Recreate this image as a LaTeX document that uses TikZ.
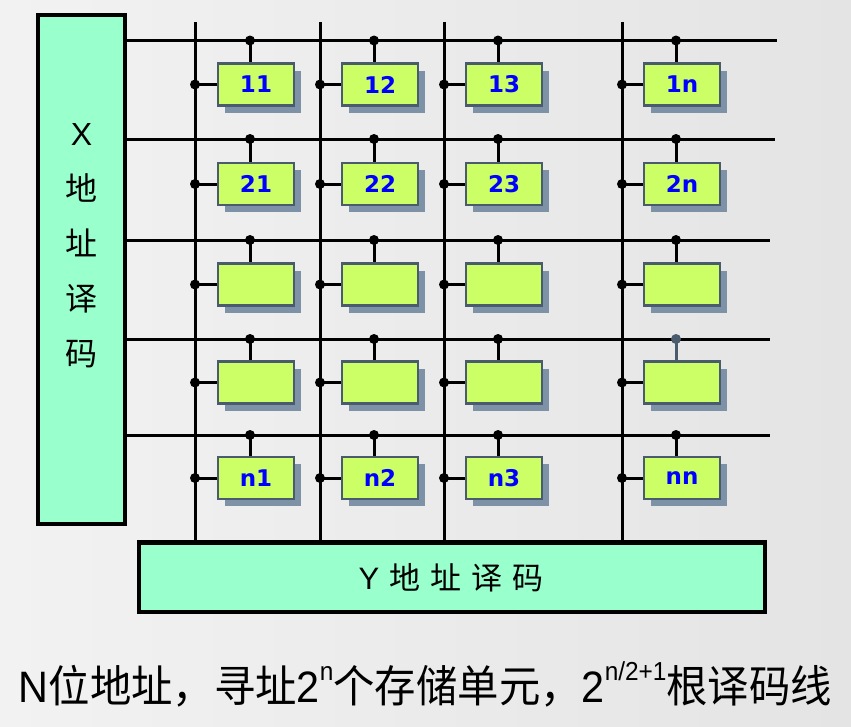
\documentclass[tikz,border=0pt]{standalone}
\usepackage{fontspec}
\setmainfont{Liberation Sans}
\newfontfamily\cjk{Noto Sans CJK SC}
\newfontfamily\cellfont{DejaVu Sans}
\usetikzlibrary{shadows}
\definecolor{bgleft}{HTML}{F2F2F2}
\definecolor{bgright}{HTML}{E4E4E4}
\definecolor{decfill}{HTML}{99FFCC}
\definecolor{cellfill}{HTML}{CCFF66}
\definecolor{slate}{HTML}{4A5B6E}
\definecolor{shadowcol}{HTML}{7D91A7}
\newcommand\upx[1]{\raisebox{0.95ex}{\fontsize{26}{26}\selectfont #1}}
\begin{document}
\begin{tikzpicture}[x=1pt,y=-1pt,
  wire/.style={line width=3pt},
  dot/.style={circle,fill=black,inner sep=0pt,minimum size=10pt},
  decoder/.style={draw=black,line width=4.5pt,fill=decfill,inner sep=0pt},
  cell/.style={draw=slate,line width=2.5pt,fill=cellfill,inner sep=0pt,
    minimum width=76pt,minimum height=42pt,text=blue,
    font=\cellfont\bfseries\fontsize{23}{23}\selectfont,
    drop shadow={shadow xshift=7pt,shadow yshift=-7pt,fill=shadowcol,opacity=1}}]
\useasboundingbox (0,0) rectangle (851,726);
\shade[left color=bgleft,right color=bgright] (0,0) rectangle (851,726);
% decoders
\node[decoder,minimum width=87pt,minimum height=509pt] (xdec) at (81.5,269.5) {};
\node[font=\fontsize{32}{55}\selectfont,align=center] (xtext) at ([yshift=24pt]xdec.center)
  {X\\{\cjk 地}\\{\cjk 址}\\{\cjk 译}\\{\cjk 码}};
\node[decoder,minimum width=626pt,minimum height=69.5pt] (ydec) at (452,577) {};
\node[font=\fontsize{31}{31}\selectfont] (ytext) at (451,578)
  {Y\hspace{10pt}{\cjk 地\hspace{10pt}址\hspace{10pt}译\hspace{10pt}码}};
% word lines and bit lines
\foreach \r/\wy/\we in {1/40.5/777,2/139/775,3/240/770,4/339/770,5/435/770}{
  \coordinate (rs\r) at (xdec.east |- 0,\wy);
  \coordinate (re\r) at (\we,\wy);
  \draw[wire] (rs\r) -- (re\r);}
\foreach \c/\vx in {1/195,2/320,3/444,4/622}{
  \coordinate (ct\c) at (\vx,22);
  \draw[wire] (ct\c) -- (ct\c |- ydec.north);}
% cells
\foreach \r/\ry/\wy/\la/\lb/\lc/\ld in {1/84.5/40.5/11/12/13/1n,2/184/139/21/22/23/2n,
    3/284.5/240/{}/{}/{}/{},4/382.5/339/{}/{}/{}/{},5/478/435/n1/n2/n3/nn}{
  \foreach \c/\cx/\vx/\l in {1/256/195/\la,2/380/320/\lb,3/504/444/\lc,4/682/622/\ld}{
    \ifnum\r\c=44 \def\wc{slate}\else\def\wc{black}\fi
    \node[cell] (c\r\c) at (\cx,\ry) {\l};
    \node[dot,fill=\wc] (dr\r\c) at (\cx-6,\wy) {};
    \node[dot] (dc\r\c) at (\vx,\ry) {};
    \draw[wire,draw=\wc] (dr\r\c.center) -- (dr\r\c.center |- c\r\c.north);
    \draw[wire] (dc\r\c.center) -- (c\r\c.west);}}
% caption
\node[font=\fontsize{44}{44}\selectfont,xscale=0.94] (note) at (425.5,684)
  {N{\cjk 位地址，寻址}2\upx{n}{\cjk 个存储单元，}2\upx{n/2+1}{\cjk 根译码线}};
\end{tikzpicture}
\end{document}
